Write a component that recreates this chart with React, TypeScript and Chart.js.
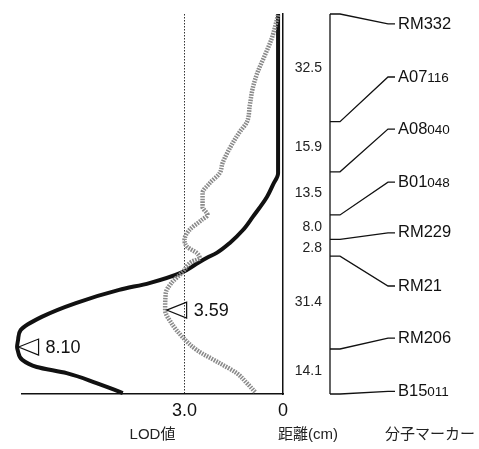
import { useEffect, useRef } from "react";
import { Chart, registerables } from "chart.js";

Chart.register(...registerables);

const FONT = "'Liberation Sans', 'Noto Sans CJK JP', Arial, sans-serif";

// Position along the chromosome (cM from top) and LOD value – thick black curve
const blackPos = [0, 26.7, 49.5, 53.2, 56.9, 63.1, 67.2, 71.2, 74.3, 75.9, 78.1, 80.3, 83.7, 85.8, 89.9, 94.2, 98.3, 101.4, 103.6, 104.6, 107.6, 109.8, 111.7, 114.8, 117.9];
const blackLod = [0.15, 0.15, 0.15, 0.31, 0.49, 0.92, 1.22, 1.62, 2.02, 2.33, 2.69, 3.06, 4.07, 4.99, 6.31, 7.35, 7.99, 8.07, 8.1, 8.08, 7.94, 7.5, 6.59, 5.68, 4.88];

// Grey (hatched) curve
const grayPos = [0.3, 7.5, 12.8, 18.0, 23.0, 28.3, 33.6, 36.7, 40.1, 46.3, 49.5, 52.6, 55.7, 60.0, 62.5, 64.1, 67.2, 70.3, 72.5, 74.3, 75.9, 77.1, 80.3, 83.7, 86.8, 92.1, 96.1, 100.5, 104.5, 108.6, 111.7, 114.8, 117.6];
const grayLod = [0.15, 0.34, 0.55, 0.77, 0.92, 1.01, 1.1, 1.32, 1.53, 1.84, 1.93, 2.23, 2.45, 2.45, 2.3, 2.48, 2.85, 3.0, 2.91, 2.63, 2.54, 2.79, 3.06, 3.4, 3.57, 3.59, 3.4, 3.06, 2.63, 1.93, 1.41, 1.1, 0.85];

// Peaks
const peakPos = [103.6, 92.1];
const peakLod = [8.1, 3.59];

// LOD axis ticks
const lodTicks = [3.0, 0];
const lodThreshold = 3.0;

// Molecular markers
const markerMain = ["RM332", "A07", "A08", "B01", "RM229", "RM21", "RM206", "B15"];
const markerSub = ["", "116", "040", "048", "", "", "", "011"];
const markerPos = [0, 33.5, 49.1, 62.5, 70.1, 75.3, 104.2, 118.2];
const markerLabelPos = [3.1, 19.6, 35.8, 52.3, 68.1, 84.6, 100.8, 117.4];
const distances = ["32.5", "15.9", "13.5", "8.0", "2.8", "31.4", "14.1"];

const mapPlugin = {
  id: "mapPlugin",
  afterDraw(chart: any) {
    const ctx = chart.ctx;
    const ys = chart.scales.y;
    const xs = chart.scales.x;
    ctx.save();
    // peak annotations
    ctx.strokeStyle = "#111";
    ctx.lineWidth = 1.2;
    ctx.fillStyle = "#111";
    ctx.font = `18px ${FONT}`;
    ctx.textBaseline = "middle";
    ctx.textAlign = "left";
    for (let i = 0; i < peakPos.length; i++) {
      const tx = xs.getPixelForValue(peakLod[i]) + 1.5;
      const py = ys.getPixelForValue(peakPos[i]);
      ctx.beginPath();
      ctx.moveTo(tx, py);
      ctx.lineTo(tx + 20, py - 8);
      ctx.lineTo(tx + 20, py + 8);
      ctx.closePath();
      ctx.stroke();
      ctx.fillText(peakLod[i].toFixed(2), tx + 27, py + 1);
    }
    // chromosome map
    const xc = 330, xh = 340, xl = 388, xe = 395, xt = 398;
    ctx.lineWidth = 1.3;
    ctx.beginPath();
    ctx.moveTo(xc, ys.getPixelForValue(markerPos[0]));
    ctx.lineTo(xc, ys.getPixelForValue(markerPos[markerPos.length - 1]));
    ctx.stroke();
    for (let i = 0; i < markerPos.length; i++) {
      const py = ys.getPixelForValue(markerPos[i]);
      const ly = ys.getPixelForValue(markerLabelPos[i]);
      ctx.beginPath();
      ctx.moveTo(xc, py);
      ctx.lineTo(xh, py);
      ctx.lineTo(xl, ly);
      ctx.lineTo(xe, ly);
      ctx.stroke();
      ctx.font = `16.5px ${FONT}`;
      ctx.textBaseline = "middle";
      ctx.fillText(markerMain[i], xt, ly);
      if (markerSub[i]) {
        const w = ctx.measureText(markerMain[i]).width;
        ctx.font = `13.5px ${FONT}`;
        ctx.fillText(markerSub[i], xt + w, ly + 1);
      }
    }
    // bottom captions
    ctx.font = `15px ${FONT}`;
    ctx.textAlign = "center";
    ctx.fillStyle = "#222";
    ctx.fillText("距離(cm)", 308, 435);
    ctx.fillText("分子マーカー", 430, 435);
    ctx.restore();
  },
};

export default function App() {
  const ref = useRef<HTMLCanvasElement | null>(null);
  useEffect(() => {
    if (!ref.current) return;
    const mids = markerPos.slice(1).map((p, i) => (p + markerPos[i]) / 2);
    const chart = new Chart(ref.current, {
      type: "line",
      data: {
        datasets: [
          {
            data: grayPos.map((p, i) => ({ x: grayLod[i], y: p })),
            borderColor: "#8a8a8a",
            borderWidth: 4.5,
            borderDash: [1.6, 1.1],
            pointRadius: 0,
            cubicInterpolationMode: "monotone",
            clip: false,
            indexAxis: "y",
          } as any,
          {
            data: blackPos.map((p, i) => ({ x: blackLod[i], y: p })),
            borderColor: "#111",
            borderWidth: 4,
            pointRadius: 0,
            cubicInterpolationMode: "monotone",
            clip: false,
            indexAxis: "y",
          } as any,
        ],
      },
      options: {
        animation: false,
        responsive: false,
        events: [],
        indexAxis: "y",
        layout: { padding: { left: 22, top: 14, right: 157, bottom: 0 } },
        plugins: { legend: { display: false }, tooltip: { enabled: false } },
        scales: {
          x: {
            type: "linear",
            position: "bottom",
            reverse: true,
            min: 0,
            max: 7.95,
            afterFit: (s: any) => {
              s.height = 55;
            },
            afterBuildTicks: (s: any) => {
              s.ticks = lodTicks.map((v) => ({ value: v }));
            },
            ticks: {
              autoSkip: false,
              maxRotation: 0,
              padding: 6,
              color: "#111",
              font: { family: FONT, size: 18 },
              callback: (v: any) => (Number(v) === 0 ? "0" : Number(v).toFixed(1)),
            },
            grid: {
              drawTicks: false,
              lineWidth: 1,
              color: (c: any) => (c.tick && c.tick.value === lodThreshold ? "#333" : "rgba(0,0,0,0)"),
            },
            border: { display: true, color: "#111", width: 1.5, dash: [1.5, 1.5] },
            title: {
              display: true,
              text: "LOD値",
              color: "#222",
              font: { family: FONT, size: 15 },
              padding: { top: 0, bottom: 5 },
            },
          },
          y: {
            type: "linear",
            position: "right",
            reverse: true,
            min: 0,
            max: 118.2,
            afterFit: (s: any) => {
              s.width = 39;
            },
            afterBuildTicks: (s: any) => {
              s.ticks = mids.map((v) => ({ value: v }));
            },
            ticks: {
              autoSkip: false,
              crossAlign: "far",
              padding: 4,
              color: "#222",
              font: { family: FONT, size: 14 },
              callback: (_v: any, i: number) => distances[i],
            },
            grid: { display: false, drawTicks: false },
            border: { display: true, color: "#111", width: 1.5 },
          },
        },
      },
      plugins: [mapPlugin],
    } as any);
    return () => chart.destroy();
  }, []);
  return (
    <div style={{ position: "absolute", left: 0, top: 0, width: 479, height: 449, background: "#fff" }}>
      <canvas ref={ref} width={479} height={449} style={{ display: "block", width: 479, height: 449 }} />
    </div>
  );
}
